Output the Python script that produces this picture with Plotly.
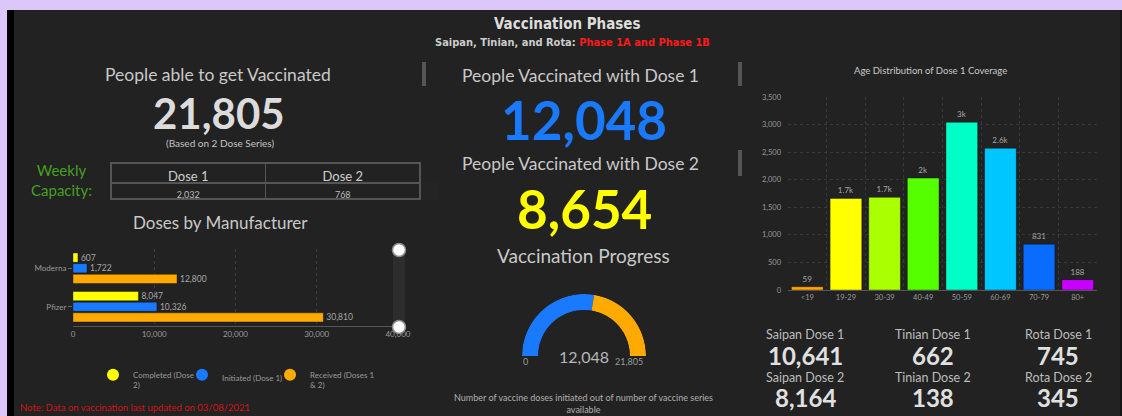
import plotly.graph_objects as go

W, H = 1122, 416
def px(x): return x / W
def py(y): return 1 - y / H

FONT = "Lato, 'Noto Sans', sans-serif"
NARROW = "'Liberation Sans Narrow', 'DejaVu Sans Condensed', Lato, sans-serif"

# ---------------- data ----------------
title = "Vaccination Phases"
subtitle_a = "Saipan, Tinian, and Rota: "
subtitle_b = "Phase 1A and Phase 1B"

eligible_total = 21805
dose1_total = 12048
dose2_total = 8654

weekly_cols = ["Dose 1", "Dose 2"]
weekly_capacity = [2032, 768]

manufacturers = ["Moderna", "Pfizer"]
completed_dose2 = [607, 8047]
initiated_dose1 = [1722, 10326]
received_doses = [12800, 30810]
mfr_ticks = [0, 10000, 20000, 30000, 40000]

age_groups = ["<19", "19-29", "30-39", "40-49", "50-59", "60-69", "70-79", "80+"]
age_dose1 = [59, 1660, 1680, 2030, 3040, 2570, 831, 188]
age_labels = ["59", "1.7k", "1.7k", "2k", "3k", "2.6k", "831", "188"]
age_colors = ["#ffa500", "#ffff00", "#aaff00", "#55ff00", "#00ffc6", "#00c6ff", "#0a6cff", "#c800ff"]
age_ticks = [0, 500, 1000, 1500, 2000, 2500, 3000, 3500]

islands = ["Saipan", "Tinian", "Rota"]
island_dose1 = [10641, 662, 745]
island_dose2 = [8164, 138, 345]

note = "Note: Data on vaccination last updated on 03/08/2021"

# ---------------- colours ----------------
LAV = "#dcc7fa"
PANEL = "#222222"
HEAD = "#c9c9c9"
BLUE = "#1a7aff"
YELLOW = "#ffff00"
ORANGE = "#ffaa00"
GREEN = "#45a020"
TICK = "#9a9a9a"

fig = go.Figure()

# ---- left: doses by manufacturer ----
series = [("Completed (Dose<br>2)", completed_dose2, YELLOW),
          ("Initiated (Dose 1)", initiated_dose1, BLUE),
          ("Received (Doses 1<br>& 2)", received_doses, ORANGE)]
for i, (name, vals, col) in enumerate(series):
    fig.add_trace(go.Bar(
        y=manufacturers, x=vals, orientation="h", name=name,
        marker=dict(color=col, line=dict(color="rgba(0,0,0,0.35)", width=1)),
        text=[f"{v:,}" for v in vals], textposition="outside",
        textfont=dict(size=8.5, color="#a8a8a8", family=FONT),
        constraintext="none", cliponaxis=False, showlegend=False,
        xaxis="x", yaxis="y"))
for i, (name, vals, col) in enumerate(series):
    fig.add_trace(go.Scatter(
        x=[None], y=[None], mode="markers", name=name,
        marker=dict(size=12, color=col, symbol="circle"),
        legend="legend" if i == 0 else f"legend{i+1}",
        xaxis="x", yaxis="y", showlegend=True))

# ---- right: age distribution ----
fig.add_trace(go.Bar(
    x=age_groups, y=age_dose1, width=0.82,
    marker=dict(color=age_colors, line=dict(color="rgba(0,0,0,0.35)", width=1)),
    text=age_labels, textposition="outside",
    textfont=dict(size=8, color="#a8a8a8", family=FONT),
    constraintext="none", cliponaxis=False, showlegend=False,
    xaxis="x2", yaxis="y2"))

# ---- gauge ----
frac = dose1_total / eligible_total
fig.add_trace(go.Barpolar(
    r=[1, 1], base=0,
    theta=[frac * 180 / 2, frac * 180 + (1 - frac) * 180 / 2],
    width=[frac * 180, (1 - frac) * 180],
    marker=dict(color=[BLUE, ORANGE], line=dict(width=0)),
    showlegend=False, subplot="polar", hoverinfo="skip"))

# ---- weekly capacity table ----
fig.add_trace(go.Table(
    domain=dict(x=[px(111), px(420)], y=[py(200), py(163)]),
    columnwidth=[1, 1],
    header=dict(values=weekly_cols, height=20, align="center",
                fill=dict(color=PANEL), line=dict(color="#555555", width=1.5),
                font=dict(size=13, color="#cfcfcf", family=FONT)),
    cells=dict(values=[[f"{weekly_capacity[0]:,}"], [f"{weekly_capacity[1]:,}"]],
               height=16, align="center",
               fill=dict(color=PANEL), line=dict(color="#555555", width=1.5),
               font=dict(size=9, color="#bdbdbd", family=FONT))))

shapes = [
    dict(type="rect", xref="paper", yref="paper", x0=px(7), x1=px(14), y0=0, y1=py(10),
         fillcolor="#000000", line=dict(width=0), layer="below"),
    dict(type="rect", xref="paper", yref="paper", x0=px(14), x1=px(1120), y0=0, y1=py(10),
         fillcolor=PANEL, line=dict(width=0), layer="below"),
    dict(type="rect", xref="paper", yref="paper", x0=px(1120), x1=1, y0=0, y1=py(10),
         fillcolor="#151515", line=dict(width=0), layer="below"),
    # separators
    dict(type="rect", xref="paper", yref="paper", x0=px(422), x1=px(426), y0=py(86), y1=py(62),
         fillcolor="#555555", line=dict(width=0)),
    dict(type="rect", xref="paper", yref="paper", x0=px(738), x1=px(742), y0=py(86), y1=py(62),
         fillcolor="#555555", line=dict(width=0)),
    dict(type="rect", xref="paper", yref="paper", x0=px(738), x1=px(742), y0=py(176), y1=py(150),
         fillcolor="#555555", line=dict(width=0)),
    # zoom slider widget
    dict(type="rect", xref="paper", yref="paper", x0=px(393), x1=px(405), y0=py(327), y1=py(250),
         fillcolor="#2d2d2d", line=dict(width=0)),
    dict(type="circle", xref="paper", yref="paper", x0=px(392.5), x1=px(405.5), y0=py(256.5), y1=py(243.5),
         fillcolor="#ffffff", line=dict(color="#8a8a8a", width=1.5)),
    dict(type="circle", xref="paper", yref="paper", x0=px(392.5), x1=px(405.5), y0=py(333.5), y1=py(320.5),
         fillcolor="#ffffff", line=dict(color="#8a8a8a", width=1.5)),
]

anns = []
def ann(text, x, y, size, color, family=FONT, weight="normal", **kw):
    anns.append(dict(text=text, x=px(x), y=py(y), xref="paper", yref="paper",
                     showarrow=False, xanchor=kw.pop("xanchor", "center"),
                     yanchor=kw.pop("yanchor", "middle"),
                     font=dict(size=size, color=color, family=family, weight=weight), **kw))

ann(title, 567, 24, 15, "#dddddd", family=NARROW, weight="bold")
ann(f"{subtitle_a}<span style='color:#ff1a1a'>{subtitle_b}</span>", 572, 43, 11, "#cccccc",
    family=NARROW, weight="bold")

# left panel
ann("People able to get Vaccinated", 218, 74, 17.5, HEAD)
ann(f"{eligible_total:,}", 219, 113, 42, "#dcdcdc", weight="bold")
ann("(Based on 2 Dose Series)", 220, 143, 10, "#c4c4c4")
ann("Weekly<br>Capacity:", 61, 180, 15, GREEN)
ann("Doses by Manufacturer", 220, 222, 17, HEAD)
ann(note, 18, 407, 9.5, "#d01515", xanchor="left")

# middle panel
ann("People Vaccinated with Dose 1", 580, 75, 17.5, HEAD)
ann(f"{dose1_total:,}", 584, 119, 53, BLUE, weight="bold")
ann("People Vaccinated with Dose 2", 580, 164, 17.5, HEAD)
ann(f"{dose2_total:,}", 584, 208, 53, YELLOW, weight="bold")
ann("Vaccination Progress", 583, 255, 19, HEAD)
ann(f"{dose1_total:,}", 584, 356, 16, "#b8b8b8")
ann("0", 525, 361, 9, "#9a9a9a")
ann(f"{eligible_total:,}", 629, 361, 9, "#9a9a9a")
ann("Number of vaccine doses initiated out of number of vaccine series<br>available",
    583, 403, 9, "#b0b0b0")

# right panel
ann("Age Distribution of Dose 1 Coverage", 931, 71, 9.5, HEAD)
centers = [805, 933, 1058]
for cx, isl, d1, d2 in zip(centers, islands, island_dose1, island_dose2):
    ann(f"{isl} Dose 1", cx, 334, 12.5, "#bdbdbd")
    ann(f"{d1:,}", cx, 355, 24, "#e0e0e0", weight="bold")
    ann(f"{isl} Dose 2", cx, 377, 12.5, "#bdbdbd")
    ann(f"{d2:,}", cx, 397, 24, "#e0e0e0", weight="bold")

legend_common = dict(orientation="v", xanchor="left", yanchor="top", valign="top",
                     bgcolor="rgba(0,0,0,0)", borderwidth=0, itemwidth=30,
                     font=dict(size=8, color=TICK, family=FONT), tracegroupgap=0)
legend_circles = [113, 202, 290]

fig.update_layout(
    width=W, height=H, margin=dict(l=0, r=0, t=0, b=0, autoexpand=False),
    paper_bgcolor=LAV, plot_bgcolor="rgba(0,0,0,0)",
    barmode="group", bargap=0.17, bargroupgap=0.14,
    shapes=shapes, annotations=anns,
    font=dict(family=FONT, color=TICK),
    legend=dict(x=px(legend_circles[0] - 20), y=py(363), **legend_common),
    legend2=dict(x=px(legend_circles[1] - 20), y=py(363), **legend_common),
    legend3=dict(x=px(legend_circles[2] - 20), y=py(363), **legend_common),
    xaxis=dict(domain=[px(73), px(398)], range=[0, 40000], tickvals=mfr_ticks,
               tickformat=",", showgrid=True, gridcolor="#3c3c3c", griddash="dot",
               showline=True, linecolor="#555555", linewidth=1, zeroline=False,
               ticks="", tickfont=dict(size=8, color=TICK), anchor="y", fixedrange=True),
    yaxis=dict(domain=[py(326), py(249)], type="category", categoryorder="array",
               categoryarray=manufacturers, autorange="reversed", showgrid=False,
               ticks="outside", ticklen=4, tickcolor="#666666", showline=False,
               tickfont=dict(size=8, color=TICK), anchor="x", fixedrange=True),
    xaxis2=dict(domain=[px(788), px(1097)], type="category", tickson="boundaries",
                showgrid=True, gridcolor="#383838", griddash="dot", ticks="",
                showline=True, linecolor="#555555", tickfont=dict(size=7.5, color=TICK),
                anchor="y2", fixedrange=True),
    yaxis2=dict(domain=[py(290), py(97)], range=[0, 3500], tickvals=age_ticks, tickformat=",",
                showgrid=True, gridcolor="#383838", griddash="dot", zeroline=False,
                ticks="", ticklabelstandoff=6, tickfont=dict(size=7.5, color=TICK),
                anchor="x2", fixedrange=True),
    polar=dict(domain=dict(x=[px(522), px(646)], y=[py(356), py(294)]),
               sector=[0, 180], hole=0.74, bgcolor="rgba(0,0,0,0)",
               radialaxis=dict(visible=False, range=[0, 1]),
               angularaxis=dict(visible=False, rotation=180, direction="clockwise")),
)

fig.write_html("out.html", config={"displayModeBar": False},
               post_script="document.body.style.margin='0';document.body.style.overflow='hidden';")
